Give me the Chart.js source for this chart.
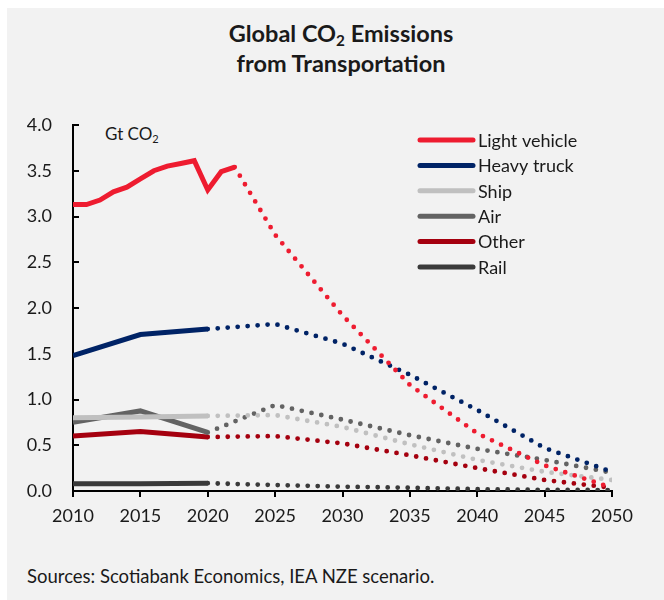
<!DOCTYPE html>
<html>
<head>
<meta charset="utf-8">
<script src="https://cdn.jsdelivr.net/npm/chart.js@4.4.1/dist/chart.umd.min.js"></script>
<style>
  body { margin: 0; background: #fff; font-family: Lato, sans-serif; color: #1a1a1a; }
  #panel { position: absolute; left: 7px; top: 8px; width: 657px; height: 592px; background: #f2f2f2; }
  #title { position: absolute; left: 0; top: 18px; width: 682px; text-align: center; font-weight: bold; font-size: 23.5px; line-height: 30px; }
  #title sub, #unit sub { font-size: 0.65em; vertical-align: -0.25em; line-height: 0; }
  #unit { position: absolute; left: 105px; top: 123px; font-size: 17px; }
  #source { position: absolute; left: 27px; top: 565px; font-size: 18.5px; }
  canvas { position: absolute; left: 0; top: 0; }
</style>
</head>
<body>
<div id="panel"></div>
<div id="title">Global CO<sub>2</sub> Emissions<br>from Transportation</div>
<div id="unit">Gt CO<sub>2</sub></div>
<div id="source">Sources: Scotiabank Economics, IEA NZE scenario.</div>
<canvas id="lineChart" width="664" height="600"></canvas>
<script>
var seriesNames = ["Light vehicle", "Heavy truck", "Ship", "Air", "Other", "Rail"];
var seriesColors = ["#ee1c30", "#002366", "#c0c0c0", "#636363", "#a5000f", "#3a3a3a"];

// historical (solid)
var lightYears = [2010, 2011, 2012, 2013, 2014, 2015, 2016, 2017, 2018, 2019, 2020, 2021, 2022];
var lightHist = [3.13, 3.13, 3.18, 3.27, 3.32, 3.41, 3.50, 3.55, 3.58, 3.61, 3.29, 3.49, 3.54];
var histYears = [2010, 2015, 2020];
var truckHist = [1.48, 1.71, 1.77];
var shipHist = [0.80, 0.81, 0.82];
var airHist = [0.75, 0.875, 0.64];
var otherHist = [0.60, 0.65, 0.59];
var railHist = [0.08, 0.08, 0.085];

// NZE scenario (dotted)
var projYears = [2025, 2030, 2035, 2040, 2045, 2050];
var lightProj = [2.80, 1.92, 1.16, 0.63, 0.28, 0.035];
var truckProj = [1.825, 1.61, 1.27, 0.885, 0.47, 0.21];
var shipProj = [0.83, 0.70, 0.51, 0.34, 0.21, 0.12];
var airProj = [0.94, 0.78, 0.61, 0.46, 0.34, 0.20];
var otherProj = [0.60, 0.52, 0.39, 0.25, 0.12, 0.035];
var railProj = [0.065, 0.047, 0.035, 0.02, 0.012, 0.01];

var yTicks = [0, 0.5, 1, 1.5, 2, 2.5, 3, 3.5, 4];

function pts(xs, ys) {
    return xs.map(function (x, i) { return {x: x, y: ys[i]}; });
}

var hist = [
    pts(lightYears, lightHist), pts(histYears, truckHist), pts(histYears, shipHist),
    pts(histYears, airHist), pts(histYears, otherHist), pts(histYears, railHist)
];
var proj = [lightProj, truckProj, shipProj, airProj, otherProj, railProj];

var datasets = [];
seriesNames.forEach(function (name, i) {
    datasets.push({
        label: name,
        data: hist[i],
        borderColor: seriesColors[i],
        borderWidth: 5,
        pointRadius: 0,
        tension: 0,
        order: i
    });
});
seriesNames.forEach(function (name, i) {
    var last = hist[i][hist[i].length - 1];
    datasets.push({
        label: name + " (NZE)",
        data: [last].concat(pts(projYears, proj[i])),
        borderColor: seriesColors[i],
        borderWidth: 4.8,
        borderDash: [0, 10],
        borderCapStyle: 'round',
        pointRadius: 0,
        tension: 0,
        order: i
    });
});

var legendPlugin = {
    id: 'sideLegend',
    afterDraw: function (chart) {
        var ctx = chart.ctx;
        ctx.save();
        ctx.font = '18px Lato';
        ctx.textBaseline = 'middle';
        ctx.fillStyle = '#1a1a1a';
        seriesNames.forEach(function (name, i) {
            var y = 140 + i * 25.4;
            ctx.strokeStyle = seriesColors[i];
            ctx.lineWidth = 5;
            ctx.lineCap = 'round';
            ctx.beginPath();
            ctx.moveTo(420, y);
            ctx.lineTo(473, y);
            ctx.stroke();
            ctx.fillText(name, 478, y + 1);
        });
        ctx.restore();
    }
};

var ctx = document.getElementById("lineChart").getContext("2d");
new Chart(ctx, {
    type: 'line',
    data: {datasets: datasets},
    options: {
        responsive: false,
        animation: false,
        layout: {padding: {left: 0, right: 52, top: 125, bottom: 49}},
        plugins: {legend: {display: false}, tooltip: {enabled: false}},
        scales: {
            x: {
                type: 'linear',
                min: 2010, max: 2050,
                afterFit: function (s) { s.height = 60; },
                border: {display: true, color: '#000', width: 2},
                grid: {drawOnChartArea: false, drawTicks: true, tickLength: 6, color: '#000', lineWidth: 2},
                ticks: {stepSize: 5, padding: 8, color: '#1a1a1a', font: {family: 'Lato', size: 18},
                    callback: function (v) { return String(v); }}
            },
            y: {
                min: 0, max: 4,
                afterFit: function (s) { s.width = 73; },
                afterBuildTicks: function (s) { s.ticks = yTicks.map(function (v) { return {value: v}; }); },
                border: {display: true, color: '#000', width: 2},
                grid: {drawOnChartArea: false, drawTicks: true, tickLength: -6, color: '#000', lineWidth: 2},
                ticks: {padding: 27, color: '#1a1a1a', font: {family: 'Lato', size: 18},
                    callback: function (v) { return v.toFixed(1); }}
            }
        }
    },
    plugins: [legendPlugin]
});
</script>
</body>
</html>
